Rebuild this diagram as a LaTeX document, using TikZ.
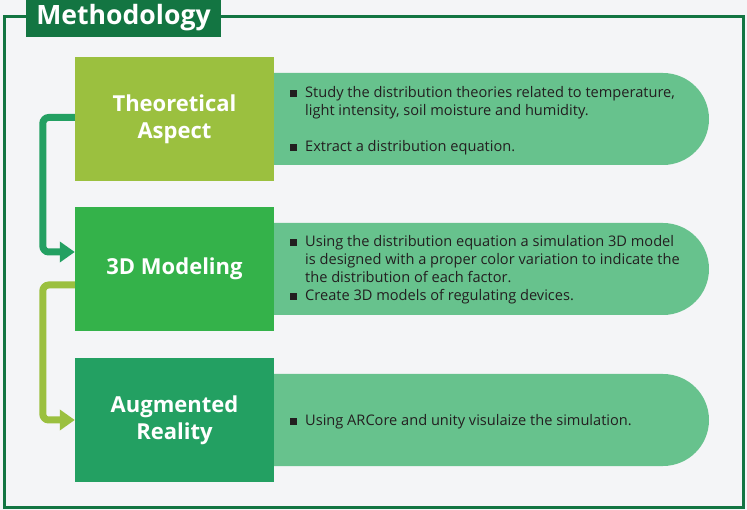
\documentclass[tikz,border=0pt]{standalone}
\usepackage{fontspec}
\setmainfont{Open Sans}
\usetikzlibrary{arrows.meta}
\definecolor{frameg}{HTML}{137542}
\definecolor{olive}{HTML}{9BC03F}
\definecolor{midg}{HTML}{34B24A}
\definecolor{deepg}{HTML}{23A062}
\definecolor{pillg}{HTML}{67C28D}
\definecolor{bgray}{HTML}{F4F5F7}
\definecolor{ink}{HTML}{231F20}
\newcommand{\blt}{\makebox[15pt][l]{\rule[0.5pt]{7pt}{7pt}}}
\newcommand{\ind}{\hspace*{15pt}}
\begin{document}
\begin{tikzpicture}[x=1pt,y=-1pt,
  stage/.style={minimum width=199pt,minimum height=124pt,inner sep=0pt,text=white,
    align=center,font=\fontsize{22}{27}\selectfont\bfseries},
  notes/.style={anchor=west,inner sep=0pt,align=left,text=ink,font=\fontsize{14.6}{18}\selectfont},
  flow/.style={line width=7pt,rounded corners=6pt,-{Triangle[length=15pt,width=20pt]}}]
\useasboundingbox (0,0) rectangle (747,510);
\fill[bgray] (0,0) rectangle (747,510);
% frame and title
\draw[frameg,line width=3pt] (4,17) rectangle (743,507);
\fill[frameg] (26,0) rectangle (221,37);
\node[text=white,font=\fontsize{26.6}{30}\selectfont\bfseries] (title) at (123.5,17.5) {Methodology};
% pills
\fill[pillg] (264,73) -- (663,73) arc (-90:90:46) -- (264,165) -- cycle;
\fill[pillg] (264,223) -- (663,223) arc (-90:90:46) -- (264,315) -- cycle;
\fill[pillg] (264,374) -- (663,374) arc (-90:90:46) -- (264,466) -- cycle;
% stages
\node[stage,fill=olive] (theory) at (174.5,119.5) {Theoretical\\Aspect};
\node[stage,fill=midg] (model) at (174.5,269) {3D Modeling};
\node[stage,fill=deepg] (ar) at (174.5,420) {Augmented\\Reality};
% notes
\node[notes] (theorynotes) at (290,120.5) {\blt Study the distribution theories related to temperature,\\
  \ind light intensity, soil moisture and humidity.\\[18pt]
  \blt Extract a distribution equation.};
\node[notes] (modelnotes) at (290,269.5) {\blt Using the distribution equation a simulation 3D model\\
  \ind is designed with a proper color variation to indicate the\\
  \ind the distribution of each factor.\\
  \blt Create 3D models of regulating devices.};
\node[notes] (arnotes) at (290,421.5) {\blt Using ARCore and unity visulaize the simulation.};
% arrows
\draw[flow,deepg] ([yshift=2pt]theory.west) -- ++(-32,0) |- ([yshift=17pt]model.west);
\draw[flow,olive] ([yshift=-16pt]model.west) -- ++(-32,0) |- (ar.west);
\end{tikzpicture}
\end{document}
